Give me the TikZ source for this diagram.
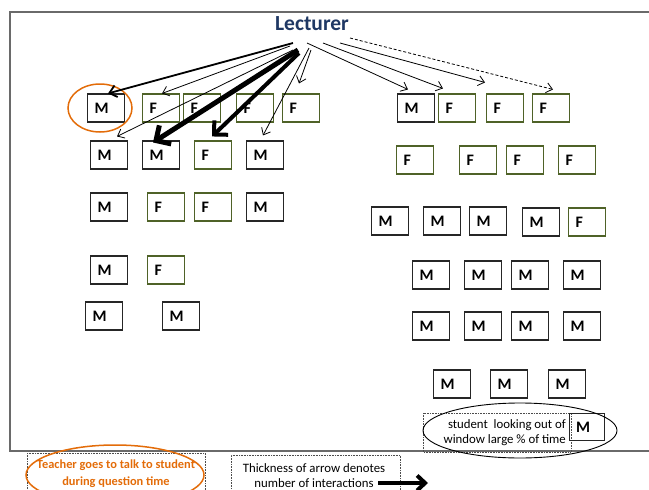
\documentclass[tikz,border=0pt]{standalone}
\usepackage{fontspec}
\setmainfont{Carlito}
\usetikzlibrary{arrows.meta}
\definecolor{lecblue}{HTML}{1F3864}
\definecolor{fgreen}{HTML}{4F6228}
\definecolor{orng}{HTML}{E36C09}
\definecolor{framegray}{HTML}{6A6A6A}
\begin{document}
\begin{tikzpicture}[x=1pt,y=-1pt,
  sbox/.style={draw, line width=1.1pt, minimum width=37pt, minimum height=28pt,
    text width=23pt, inner xsep=7pt, inner ysep=0pt, align=left,
    font=\bfseries\fontsize{16}{16}\selectfont},
  mbox/.style={sbox, draw=black!85},
  fbox/.style={sbox, draw=fgreen},
  thinarr/.style={-{Straight Barb[length=6pt,width=10pt]}, line width=0.8pt},
  medarr/.style={-{Straight Barb[length=7pt,width=12pt]}, line width=1.8pt},
  bigarr/.style={-{Straight Barb[length=11pt,width=22pt]}, line width=5pt},
  bigarrb/.style={-{Straight Barb[length=10pt,width=20pt]}, line width=4pt},
  dotbox/.style={draw=black!70, densely dotted, line width=0.6pt},
  smalltxt/.style={font=\fontsize{12.8}{15.5}\selectfont, inner sep=0pt}
]
\useasboundingbox (0,0) rectangle (649,490);
% frame
\draw[framegray, line width=1.5pt] (660,12) -- (10,12) -- (10,451) -- (660,451);

% title
\node[font=\bfseries\fontsize{21.5}{21.5}\selectfont, text=lecblue] (lec) at (312,24) {Lecturer};

% left block
\node[mbox] (l11) at (106,108) {M};
\node[fbox] (l12) at (161,108) {F};
\node[fbox] (l13) at (202,108) {F};
\node[fbox] (l14) at (255,108) {F};
\node[fbox] (l15) at (301,108) {F};
\node[mbox] (l21) at (109,155) {M};
\node[mbox] (l22) at (161,155) {M};
\node[fbox] (l23) at (213,155) {F};
\node[mbox] (l24) at (265,155) {M};
\node[mbox] (l31) at (109,207) {M};
\node[fbox] (l32) at (166,207) {F};
\node[fbox] (l33) at (213,207) {F};
\node[mbox] (l34) at (265,207) {M};
\node[mbox] (l41) at (109,270) {M};
\node[fbox] (l42) at (166,270) {F};
\node[mbox] (l51) at (104,316) {M};
\node[mbox] (l52) at (181,316) {M};

% right block
\node[mbox] (r11) at (416,108) {M};
\node[fbox] (r12) at (457,108) {F};
\node[fbox] (r13) at (505,108) {F};
\node[fbox] (r14) at (551,108) {F};
\node[fbox] (r21) at (415,160) {F};
\node[fbox] (r22) at (478,160) {F};
\node[fbox] (r23) at (525,160) {F};
\node[fbox] (r24) at (577,160) {F};
\node[mbox] (r31) at (390,221) {M};
\node[mbox] (r32) at (442,221) {M};
\node[mbox] (r33) at (488,221) {M};
\node[mbox] (r34) at (541,222) {M};
\node[fbox] (r35) at (587,222) {F};
\node[mbox] (r41) at (431,275) {M};
\node[mbox] (r42) at (483,275) {M};
\node[mbox] (r43) at (530,275) {M};
\node[mbox] (r44) at (582,275) {M};
\node[mbox] (r51) at (431,326) {M};
\node[mbox] (r52) at (483,326) {M};
\node[mbox] (r53) at (530,326) {M};
\node[mbox] (r54) at (582,326) {M};
\node[mbox] (r61) at (452,384) {M};
\node[mbox] (r62) at (509,384) {M};
\node[mbox] (r63) at (567,384) {M};

% orange circle around first M
\draw[orng, line width=1.5pt] (100,108) ellipse [x radius=32, y radius=24];

% arrow start points
\coordinate (s1) at (293,43);
\coordinate (s2) at (290,46);
\coordinate (s3) at (293,50);
\coordinate (s4) at (298,50);
\coordinate (s5) at (299,53);
\coordinate (s6) at (309,48);
\coordinate (s7) at (311,50);
\coordinate (s8) at (307,43);
\coordinate (s9) at (323,43);
\coordinate (s10) at (340,43);
\coordinate (s11) at (350,38);

\draw[medarr] (s1) -- ([xshift=2pt]l11.north);
\draw[thinarr] (s2) -- ([xshift=1pt]l12.north);
\draw[thinarr] (s3) -- ([xshift=8pt,yshift=4pt]l21.north);
\draw[bigarr] (s4) -- ([xshift=-8pt,yshift=-2pt]l22.north);
\draw[bigarrb] (s5) -- ([xshift=-1pt,yshift=4pt]l23.north);
\draw[thinarr] (s6) -- ([xshift=-2pt,yshift=5pt]l24.north);
\draw[thinarr] (s7) -- ([xshift=-2pt,yshift=10pt]l15.north);
\draw[thinarr] (s8) -- ([xshift=-8pt,yshift=4pt]r11.north);
\draw[thinarr] (s9) -- ([xshift=-14pt,yshift=5pt]r12.north);
\draw[thinarr] (s10) -- ([xshift=-20pt,yshift=11pt]r13.north);
\draw[thinarr, dash pattern=on 3pt off 2pt] (s11) -- ([xshift=2pt,yshift=4pt]r14.north);

% window student
\draw[dotbox] (423,413) rectangle (571,452);
\node[sbox, draw=black!85, minimum width=35pt, minimum height=27pt, text width=22pt, inner xsep=6pt] (wm) at (587,427) {M};
\node[smalltxt, align=right, anchor=east] (wtxt) at (566,432.5) {student\ \ looking out of\\window large \% of time};
\draw[black, line width=0.9pt] (520,430.5) ellipse [x radius=97, y radius=27.5];

% legend 1
\draw[dotbox] (27,453) -- (27,495) (27,453) -- (205,453) -- (205,495);
\draw[orng, line width=1.5pt] (115,475) ellipse [x radius=89, y radius=30];
\node[font=\bfseries\fontsize{12.4}{17}\selectfont, text=orng, align=center, inner sep=0pt] (leg1) at (116,473.5) {Teacher goes to talk to student\\during question time};

% legend 2
\draw[dotbox] (231,495) -- (231,455) -- (400,455) -- (400,495);
\node[smalltxt, align=center] (leg2) at (314,475.5) {Thickness of arrow denotes\\number of interactions};
\coordinate (la) at (378,483);
\coordinate (lb) at (428,483);
\draw[-{Straight Barb[length=8pt,width=15pt]}, line width=4pt] (la) -- (lb);
\end{tikzpicture}
\end{document}
